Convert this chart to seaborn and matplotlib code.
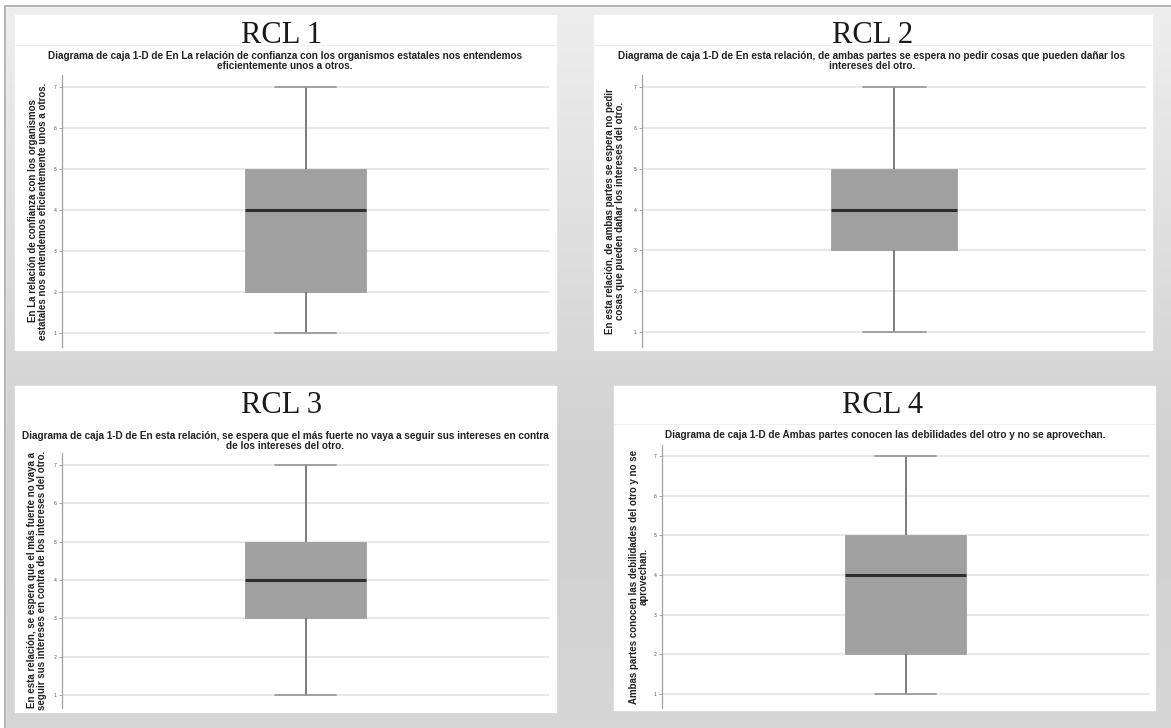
import numpy as np
import matplotlib
matplotlib.use('Agg')
import matplotlib.pyplot as plt
import seaborn as sns
from matplotlib.patches import Rectangle
from matplotlib.lines import Line2D

sns.set_theme(style='white')
plt.rcParams['font.family'] = ['Liberation Sans', 'DejaVu Sans']

# ---------------- data ----------------
titles = ['RCL 1', 'RCL 2', 'RCL 3', 'RCL 4']
subtitles = [
    'Diagrama de caja 1-D de En La relación de confianza con los organismos estatales nos entendemos\neficientemente unos a otros.',
    'Diagrama de caja 1-D de En esta relación, de ambas partes se espera no pedir cosas que pueden dañar los\nintereses del otro.',
    'Diagrama de caja 1-D de En esta relación, se espera que el más fuerte no vaya a seguir sus intereses en contra\nde los intereses del otro.',
    'Diagrama de caja 1-D de Ambas partes conocen las debilidades del otro y no se aprovechan.',
]
ylabels = [
    'En La relación de confianza con los organismos\nestatales nos entendemos eficientemente unos a otros.',
    'En esta relación, de ambas partes se espera no pedir\ncosas que pueden dañar los intereses del otro.',
    'En esta relación, se espera que el más fuerte no vaya a\nseguir sus intereses en contra de los intereses del otro.',
    'Ambas partes conocen las debilidades del otro y no se\naprovechan.',
]
rcl1 = [1, 2, 2, 3, 4, 4, 5, 6, 7]
rcl2 = [1, 2, 3, 3, 4, 4, 5, 6, 7]
rcl3 = [1, 2, 3, 3, 4, 4, 5, 6, 7]
rcl4 = [1, 2, 2, 3, 4, 4, 5, 6, 7]
yticks = [1, 2, 3, 4, 5, 6, 7]

# ---------------- layout (pixels) ----------------
W, H = 1171, 728
fig = plt.figure(figsize=(W / 100, H / 100), dpi=100)

bg = fig.add_axes([0, 0, 1, 1], zorder=-10)
bg.set_xlim(0, W)
bg.set_ylim(H, 0)
bg.axis('off')
yy, xx = np.mgrid[0:H, 0:W]
grad = 0.935 - 0.115 * np.clip(yy / (0.62 * H), 0, 1) + 0.02 * np.clip((yy - 0.75 * H) / (0.25 * H), 0, 1)
bg.imshow(np.dstack([grad, grad, grad]), extent=(0, W, H, 0), aspect='auto', zorder=0)
bg.add_patch(Rectangle((0, 0), W, 6, color='white', zorder=1))
bg.add_patch(Rectangle((0, 0), 5, H, color='white', zorder=1))
bg.add_line(Line2D([5, W], [6, 6], color='#a8a8a8', lw=1.2, zorder=2))
bg.add_line(Line2D([5, 5], [6, H], color='#a8a8a8', lw=1.2, zorder=2))

panels = [
    dict(rect=(15, 15, 556, 350), ax=(62, 549, 75, 347), ylim=(0.66, 7.29),
         title=(282, 43), sub=(285, 61), band=45, ylx=-0.050),
    dict(rect=(594, 15, 1152, 350), ax=(642, 1146, 75, 347), ylim=(0.64, 7.29),
         title=(873, 43), sub=(872, 61), band=45, ylx=-0.054),
    dict(rect=(15, 386, 556, 712), ax=(62, 549, 453, 708), ylim=(0.66, 7.31),
         title=(282, 413), sub=(285, 441), band=None, ylx=-0.052),
    dict(rect=(614, 386, 1155, 710), ax=(662, 1149, 445, 708), ylim=(0.65, 7.28),
         title=(883, 413), sub=(885, 435), band=424, ylx=-0.048),
]
datasets = [rcl1, rcl2, rcl3, rcl4]

for i, p in enumerate(panels):
    x0, y0, x1, y1 = p['rect']
    bg.add_patch(Rectangle((x0, y0), x1 - x0, y1 - y0, color='white', zorder=3))
    if p['band']:
        bg.add_line(Line2D([x0, x1], [p['band'], p['band']], color='#eeeeee', lw=0.8, zorder=4))
    bg.text(p['title'][0], p['title'][1], titles[i], family='Liberation Serif', fontsize=22,
            ha='center', va='baseline', color='#1a1a1a', zorder=5)
    bg.text(p['sub'][0], p['sub'][1], subtitles[i], fontsize=7.2, fontweight='bold',
            ha='center', va='center', color='#222222', linespacing=1.0, zorder=5)

    l, r, t, b = p['ax']
    ax = fig.add_axes([l / W, 1 - b / H, (r - l) / W, (b - t) / H])
    ax.patch.set_alpha(0)
    sns.boxplot(y=datasets[i], ax=ax, width=0.25, color='#a0a0a0', saturation=1,
                showfliers=False, linecolor='#a0a0a0', linewidth=0.6,
                medianprops=dict(color='#2e2e2e', linewidth=2.2),
                whiskerprops=dict(color='#5a5a5a', linewidth=1.1),
                capprops=dict(color='#9a9a9a', linewidth=1.3))
    ax.set_xlim(-0.5, 0.5)
    ax.set_ylim(*p['ylim'])
    ax.set_yticks(yticks)
    ax.set_yticklabels([str(v) for v in yticks], fontsize=3.6, color='#555555')
    ax.tick_params(axis='y', length=2, width=0.6, color='#999999', pad=2, left=True)
    ax.set_xticks([])
    ax.set_xlabel('')
    ax.yaxis.grid(True, color='#e2e2e2', linewidth=1.1)
    ax.set_axisbelow(True)
    for s in ['top', 'right', 'bottom']:
        ax.spines[s].set_visible(False)
    ax.spines['left'].set_color('#a0a0a0')
    ax.spines['left'].set_linewidth(0.9)
    ax.set_ylabel(ylabels[i], fontsize=7.0, fontweight='bold', color='#222222',
                  linespacing=1.0)
    ax.yaxis.set_label_coords(p['ylx'], 0.5)
    ax.yaxis.label.set_verticalalignment('center')

fig.savefig('out.png', dpi=100)
